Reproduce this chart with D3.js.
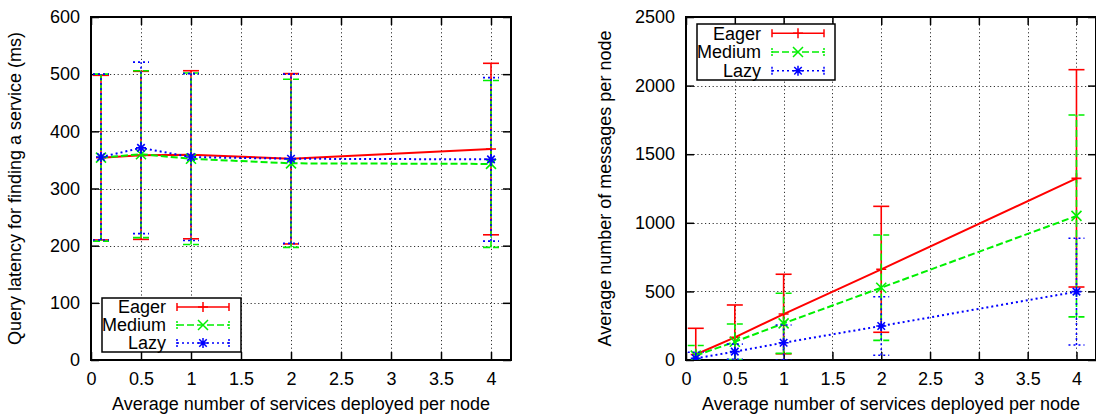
<!DOCTYPE html>
<html>
<head>
<meta charset="utf-8">
<script src="https://cdn.jsdelivr.net/npm/d3@7"></script>
<style>
  html, body { margin: 0; padding: 0; background: #fff; }
  svg { display: block; }
  text { font-family: "Liberation Sans", Arial, sans-serif; fill: #000; }
</style>
</head>
<body>
<svg id="chart" width="1096" height="416"></svg>
<script>
// ---------------- data ----------------
const services = [0.1, 0.5, 1, 2, 4];
const seriesNames = ["Eager", "Medium", "Lazy"];
const xTicks = [0, 0.5, 1, 1.5, 2, 2.5, 3, 3.5, 4];
const xTickLabels = ["0", "0.5", "1", "1.5", "2", "2.5", "3", "3.5", "4"];
const latencyTicks = [0, 100, 200, 300, 400, 500, 600];
const messageTicks = [0, 500, 1000, 1500, 2000, 2500];

// Query latency (ms): mean and error (±)
const latencyEager = [354, 358, 359, 352, 369];
const latencyEagerErr = [144, 147, 147, 149, 150];
const latencyMedium = [354, 360, 352, 344, 343];
const latencyMediumErr = [146, 146, 150, 147, 146];
const latencyLazy = [355, 371, 355, 352, 351];
const latencyLazyErr = [145, 150, 146, 148, 143];

// Messages per node: mean and error (±)
const messagesEager = [40, 165, 335, 661, 1324];
const messagesEagerErr = [191, 236, 290, 459, 792];
const messagesMedium = [32, 133, 267, 527, 1050];
const messagesMediumErr = [74, 129, 219, 384, 736];
const messagesLazy = [12, 61, 126, 248, 498];
const messagesLazyErr = [44, 55, 129, 213, 389];

// ---------------- styles ----------------
const seriesStyle = {
  Eager:  { color: "#ff0000", dash: null,  marker: "plus" },
  Medium: { color: "#00f000", dash: "7,3", marker: "cross" },
  Lazy:   { color: "#0000ff", dash: "2,3", marker: "star" }
};

const svg = d3.select("#chart");

function markerPath(type, cx, cy, r) {
  const p = d3.path();
  if (type === "plus" || type === "star") {
    p.moveTo(cx - r, cy); p.lineTo(cx + r, cy);
    p.moveTo(cx, cy - r); p.lineTo(cx, cy + r);
  }
  if (type === "cross" || type === "star") {
    const d = type === "star" ? r * 0.75 : r;
    p.moveTo(cx - d, cy - d); p.lineTo(cx + d, cy + d);
    p.moveTo(cx - d, cy + d); p.lineTo(cx + d, cy - d);
  }
  return p.toString();
}

function drawChart(cfg) {
  const { left, right, top, bottom, yMax, yTicks, series, yTitle, yTitleX, legend, id } = cfg;
  const x = d3.scaleLinear().domain([0, 4.2]).range([left, right]);
  const y = d3.scaleLinear().domain([0, yMax]).range([bottom, top]);
  const g = svg.append("g");

  g.append("clipPath").attr("id", "clip" + id)
    .append("rect").attr("x", left).attr("y", top)
    .attr("width", right - left).attr("height", bottom - top);

  // grid
  const grid = g.append("g").attr("stroke", "#333").attr("stroke-width", 1)
    .attr("stroke-dasharray", "1.2,2.6");
  grid.selectAll("line.vx").data(xTicks.filter(d => d > 0 && d < 4.2)).join("line")
    .attr("x1", d => Math.round(x(d)) + 0.5).attr("x2", d => Math.round(x(d)) + 0.5)
    .attr("y1", top).attr("y2", bottom);
  grid.selectAll("line.hy").data(yTicks.filter(d => d > 0 && d < yMax)).join("line")
    .attr("y1", d => Math.round(y(d)) + 0.5).attr("y2", d => Math.round(y(d)) + 0.5)
    .attr("x1", left).attr("x2", right);

  // axes
  const fs = 18;
  const ax = g.append("g").attr("transform", `translate(0,${bottom})`)
    .call(d3.axisBottom(x).tickValues(xTicks).tickFormat((d, i) => xTickLabels[i])
      .tickSize(-8).tickPadding(12));
  const ay = g.append("g").attr("transform", `translate(${left},0)`)
    .call(d3.axisLeft(y).tickValues(yTicks).tickFormat(d3.format("d"))
      .tickSize(-8).tickPadding(11));
  const at = g.append("g").attr("transform", `translate(0,${top})`)
    .call(d3.axisTop(x).tickValues(xTicks).tickFormat("").tickSize(-8));
  const ar = g.append("g").attr("transform", `translate(${right},0)`)
    .call(d3.axisRight(y).tickValues(yTicks).tickFormat("").tickSize(-8));
  [ax, ay, at, ar].forEach(a => {
    a.select(".domain").remove();
    a.selectAll("line").attr("stroke", "#000").attr("stroke-width", 1.5);
    a.selectAll("text").attr("font-size", fs).attr("font-family", '"Liberation Sans", Arial, sans-serif');
  });

  // frame
  g.append("rect").attr("x", left).attr("y", top)
    .attr("width", right - left).attr("height", bottom - top)
    .attr("fill", "none").attr("stroke", "#000").attr("stroke-width", 2);

  // data
  const dg = g.append("g").attr("clip-path", `url(#clip${id})`);
  const capW = 8;
  series.forEach(s => {
    const st = seriesStyle[s.name];
    const pts = services.map((sv, i) => ({ x: sv, v: s.values[i], e: s.errors[i] }));
    const sg = dg.append("g").attr("stroke", st.color).attr("fill", "none").attr("stroke-width", 1.6);
    // error bars
    pts.forEach(p => {
      const eb = sg.append("g").attr("stroke-dasharray", st.dash);
      eb.append("line").attr("x1", x(p.x)).attr("x2", x(p.x))
        .attr("y1", y(p.v - p.e)).attr("y2", y(p.v + p.e));
      [p.v - p.e, p.v + p.e].forEach(b => {
        eb.append("line").attr("x1", x(p.x) - capW).attr("x2", x(p.x) + capW)
          .attr("y1", y(b)).attr("y2", y(b));
      });
    });
    // line
    sg.append("path").datum(pts)
      .attr("stroke-dasharray", st.dash).attr("stroke-width", 2)
      .attr("d", d3.line().x(p => x(p.x)).y(p => y(p.v)));
    // markers
    sg.selectAll("path.m").data(pts).join("path").attr("class", "m")
      .attr("d", p => markerPath(st.marker, x(p.x), y(p.v), 5));
  });

  // y title
  g.append("text")
    .attr("transform", `translate(${yTitleX},${(top + bottom) / 2}) rotate(-90)`)
    .attr("text-anchor", "middle").attr("font-size", fs).text(yTitle);
  // x title
  g.append("text").attr("x", (left + right) / 2).attr("y", 410)
    .attr("text-anchor", "middle").attr("font-size", fs)
    .text("Average number of services deployed per node");

  // legend
  const lg = g.append("g");
  lg.append("rect").attr("x", legend.x).attr("y", legend.y)
    .attr("width", legend.w).attr("height", legend.h)
    .attr("fill", "#fff").attr("stroke", "#000").attr("stroke-width", 1.5);
  const rowH = legend.h / 3;
  seriesNames.forEach((name, i) => {
    const st = seriesStyle[name];
    const cy = legend.y + rowH * (i + 0.5);
    lg.append("text").attr("x", legend.x + 64).attr("y", cy).attr("dy", "0.35em")
      .attr("text-anchor", "end").attr("font-size", fs).text(name);
    const x1 = legend.x + 75, x2 = legend.x + 127, xm = (x1 + x2) / 2;
    const sg = lg.append("g").attr("stroke", st.color).attr("stroke-width", 1.5).attr("fill", "none");
    sg.append("line").attr("x1", x1).attr("x2", x2).attr("y1", cy).attr("y2", cy)
      .attr("stroke-dasharray", st.dash);
    [x1, x2].forEach(xx => sg.append("line").attr("x1", xx).attr("x2", xx)
      .attr("y1", cy - 4).attr("y2", cy + 4).attr("stroke-dasharray", st.dash ? "2,1" : null));
    sg.append("path").attr("d", markerPath(st.marker, xm, cy, 5));
  });
}

drawChart({
  id: "a", left: 91, right: 511, top: 17, bottom: 360, yMax: 600, yTicks: latencyTicks,
  yTitle: "Query latency for finding a service (ms)", yTitleX: 21,
  legend: { x: 102, y: 298, w: 139, h: 54 },
  series: [
    { name: "Eager", values: latencyEager, errors: latencyEagerErr },
    { name: "Medium", values: latencyMedium, errors: latencyMediumErr },
    { name: "Lazy", values: latencyLazy, errors: latencyLazyErr }
  ]
});

drawChart({
  id: "b", left: 686, right: 1096, top: 17, bottom: 360, yMax: 2500, yTicks: messageTicks,
  yTitle: "Average number of messages per node", yTitleX: 611,
  legend: { x: 697, y: 24, w: 138, h: 56 },
  series: [
    { name: "Eager", values: messagesEager, errors: messagesEagerErr },
    { name: "Medium", values: messagesMedium, errors: messagesMediumErr },
    { name: "Lazy", values: messagesLazy, errors: messagesLazyErr }
  ]
});
</script>
</body>
</html>
